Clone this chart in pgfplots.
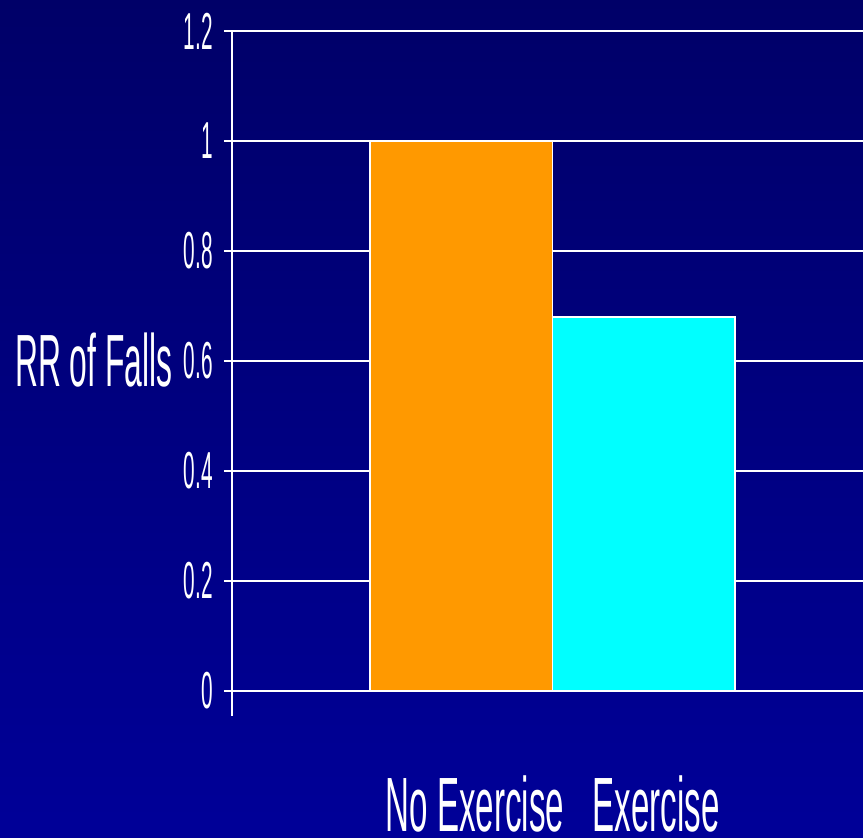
\documentclass[border=0pt]{standalone}
\usepackage{fontspec}
\usepackage{pgfplots}
\pgfplotsset{compat=1.18}
\newfontfamily\condfont[FakeStretch=0.43]{Liberation Sans}
\newfontfamily\tickfont[FakeStretch=0.40]{Liberation Sans}
\definecolor{bgtop}{RGB}{0,0,104}
\definecolor{bgbot}{RGB}{0,0,152}
\definecolor{barorange}{RGB}{255,153,0}
\definecolor{barcyan}{RGB}{0,255,255}
\begin{document}
\begin{tikzpicture}
\path[use as bounding box] (0,0) rectangle (431.5pt,419pt);
\shade[top color=bgtop, bottom color=bgbot] (0,0) rectangle (431.5pt,419pt);
\begin{axis}[
  at={(116pt,61pt)}, anchor=south west,
  scale only axis, width=315.5pt, height=342.5pt,
  xmin=232, xmax=863, ymin=-0.0455, ymax=1.2,
  ybar, bar width=182.5, bar shift=0pt,
  axis y line*=left, axis x line*=bottom,
  x axis line style={draw=none},
  y axis line style={white, line width=0.75pt},
  ytick={0,0.2,0.4,0.6,0.8,1,1.2},
  yticklabels={0,0.2,0.4,0.6,0.8,1,1.2},
  tick align=outside, major tick length=4pt,
  ytick style={white, line width=0.75pt},
  ymajorgrids, major grid style={white, line width=1pt},
  yticklabel style={font=\tickfont\fontsize{26}{26}\selectfont, text=white, inner sep=0pt, xshift=-5.5pt},
  xtick={475,656}, xticklabels={No Exercise,Exercise},
  xtick style={draw=none},
  xticklabel style={font=\condfont\fontsize{38.5}{38.5}\selectfont, text=white, anchor=base, inner sep=0pt, yshift=-54pt},
  ylabel={RR of Falls},
  ylabel style={rotate=-90, font=\condfont\fontsize{37}{37}\selectfont, text=white, anchor=east, inner sep=0pt, at={(axis description cs:-0.0935,0.52)}},
  /pgf/number format/assume math mode=true,
  clip=false,
]
\addplot[fill=barorange, draw=white, line width=0.75pt] coordinates {(461.25,1)};
\addplot[fill=barcyan, draw=white, line width=0.75pt] coordinates {(643.75,0.68)};
\end{axis}
\end{tikzpicture}
\end{document}
